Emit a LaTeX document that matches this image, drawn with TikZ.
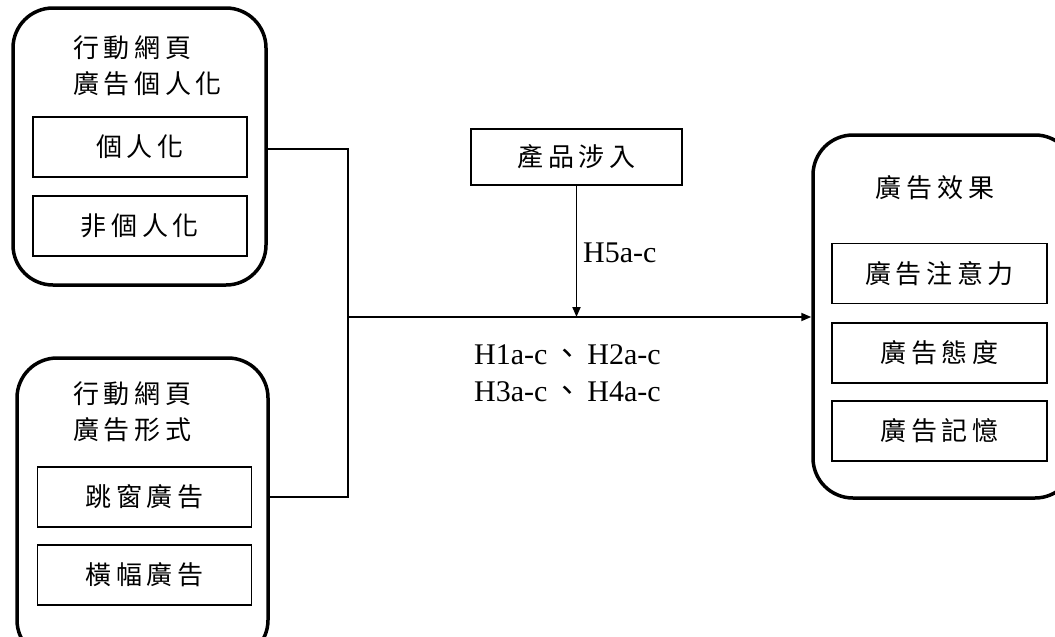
\documentclass[tikz,border=0pt]{standalone}
\usepackage{fontspec}
\setmainfont{Liberation Serif}
\newfontfamily\cjk[LetterSpace=18]{Noto Sans CJK TC}
\newfontfamily\cjkp{Noto Sans CJK TC}
\usetikzlibrary{arrows.meta}
\tikzset{
  outerbox/.style={draw, line width=3.5pt, rounded corners=40pt, inner sep=0pt},
  innerbox/.style={draw, line width=1.8pt, minimum width=214pt, minimum height=60pt, inner sep=0pt, font=\cjk\fontsize{26}{30}\selectfont},
  ttl/.style={inner sep=0pt, align=left, font=\cjk\fontsize{26}{36}\selectfont},
  hlab/.style={inner sep=0pt, align=left, font=\fontsize{30}{37}\selectfont},
  conn/.style={line width=1.8pt},
}
\begin{document}
\begin{tikzpicture}[x=1pt,y=-1pt]
\useasboundingbox (0,0) rectangle (1055,637);
% outer boxes
\node[outerbox, minimum width=253pt, minimum height=277pt] (tl) at (139.5,146.5) {};
\node[outerbox, minimum width=251pt, minimum height=302pt] (bl) at (142.5,509) {};
\node[outerbox, minimum width=262pt, minimum height=363pt] (rb) at (944,316.5) {};
% titles
\node[ttl, anchor=north west] (tlt) at (73,35) {行動網頁\\廣告個人化};
\node[ttl, anchor=north west] (blt) at (73,381) {行動網頁\\廣告形式};
\node[ttl] (rbt) at (935,188) {廣告效果};
% inner boxes
\node[innerbox] (p1) at (140,147) {個人化};
\node[innerbox] (p2) at (140,226) {非個人化};
\node[innerbox] (f1) at (144.5,497) {跳窗廣告};
\node[innerbox] (f2) at (144.5,575) {橫幅廣告};
\node[innerbox, minimum width=215pt] (e1) at (939.5,273.5) {廣告注意力};
\node[innerbox, minimum width=215pt] (e2) at (939.5,353) {廣告態度};
\node[innerbox, minimum width=215pt] (e3) at (939.5,431) {廣告記憶};
\node[innerbox, minimum width=211pt, minimum height=56pt] (prod) at (576.5,157) {產品涉入};
% connectors
\coordinate (j) at (348,317);
\coordinate (jt) at (348,149);
\coordinate (jb) at (348,497);
\draw[conn] (jt -| tl.east) -- (jt) -- (jb) -- (jb -| bl.east);
\draw[conn, -{Triangle[length=10pt,width=8pt]}] (j) -- (j -| rb.west);
\draw[conn, -{Triangle[length=10pt,width=8pt]}] (prod.south) -- (prod.south |- j);
% labels
\node[hlab, anchor=west] (h5) at (583,253) {H5a-c};
\node[hlab, anchor=west] (h14) at (474,373) {H1a-c\,{\cjkp 、}\,H2a-c\\H3a-c\,{\cjkp 、}\,H4a-c};
\end{tikzpicture}
\end{document}
